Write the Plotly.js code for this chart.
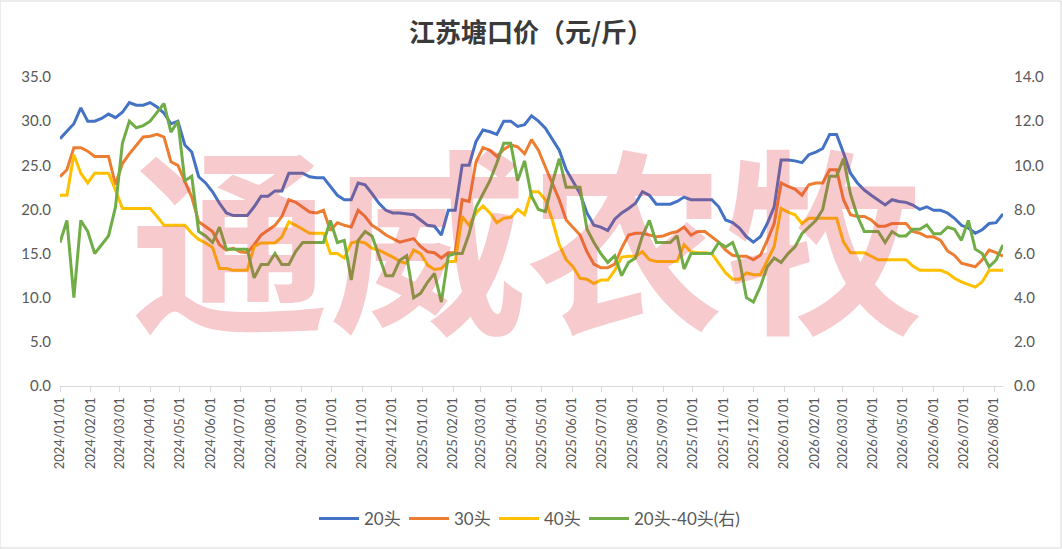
<!DOCTYPE html>
<html>
<head>
<meta charset="utf-8">
<script src="https://cdn.plot.ly/plotly-3.0.1.min.js"></script>
<style>
  html, body { margin: 0; padding: 0; background: #fff; }
  #chart { width: 1062px; height: 549px; }
</style>
</head>
<body>
<div id="chart"></div>
<script>
// weekly observations, first week 2024/01/01
const startDate = '2024-01-01';
const weekCount = 137;

const price20 = [
  28.0, 28.8, 29.7, 31.5, 30.0, 30.0, 30.3, 30.8, 30.4, 31.0,
  32.1, 31.8, 31.8, 32.1, 31.6, 30.9, 29.7, 30.0, 27.3, 26.5,
  23.7, 23.0, 22.0, 20.7, 19.6, 19.3, 19.3, 19.3, 20.3, 21.5,
  21.5, 22.1, 22.1, 24.1, 24.1, 24.1, 23.7, 23.6, 23.6, 22.6,
  21.6, 21.1, 21.1, 23.0, 22.8, 21.8, 20.7, 19.9, 19.6, 19.6,
  19.5, 19.4, 18.8, 18.2, 18.1, 17.1, 19.9, 19.9, 25.0, 25.0,
  27.7, 29.0, 28.8, 28.5, 30.0, 30.0, 29.4, 29.6, 30.6, 30.0,
  29.2, 28.0, 26.7, 24.5, 23.1, 21.8, 19.6, 18.2, 18.0, 17.6,
  18.9, 19.6, 20.1, 20.7, 22.0, 21.6, 20.6, 20.6, 20.6, 20.9,
  21.4, 21.1, 21.1, 21.1, 21.1, 20.3, 18.8, 18.5, 17.9, 16.9,
  16.3, 16.9, 18.4, 20.3, 25.6, 25.6, 25.5, 25.3, 26.2, 26.5,
  26.9, 28.5, 28.5, 26.4, 24.1, 23.0, 22.2, 21.6, 21.1, 20.5,
  21.1, 20.9, 20.8, 20.5, 20.0, 20.3, 19.9, 19.9, 19.6, 19.0,
  18.2, 17.9, 17.3, 17.7, 18.4, 18.5, 19.5
];

const price30 = [
  23.7, 24.5, 27.0, 27.0, 26.6, 26.0, 26.0, 26.0, 22.8, 25.2,
  26.3, 27.2, 28.2, 28.3, 28.5, 28.2, 25.4, 25.0, 23.3, 21.4,
  18.6, 18.0, 17.5, 16.0, 15.4, 15.6, 15.2, 15.1, 16.0, 17.1,
  17.7, 18.2, 19.2, 21.1, 20.8, 20.3, 19.7, 19.6, 19.9, 17.6,
  18.5, 18.2, 18.0, 19.9, 19.2, 18.2, 17.7, 17.1, 16.7, 16.3,
  16.5, 16.7, 15.8, 15.2, 15.1, 14.5, 15.1, 15.1, 21.1, 20.9,
  25.4, 27.0, 26.7, 26.0, 26.8, 27.3, 27.1, 26.3, 27.9, 26.7,
  24.8, 23.0, 21.1, 18.8, 17.9, 17.1, 15.2, 13.8, 13.4, 13.4,
  13.8, 15.6, 17.1, 17.3, 17.3, 17.1, 16.9, 17.0, 17.3, 17.5,
  18.0, 17.1, 17.5, 17.5, 16.9, 16.3, 15.4, 14.8, 14.7, 14.7,
  14.3, 14.8, 16.5, 18.4, 23.0, 22.6, 22.3, 21.6, 22.8, 23.0,
  23.0, 24.5, 24.5, 21.1, 19.4, 19.2, 19.2, 18.8, 18.1, 18.1,
  18.4, 18.4, 18.4, 17.5, 17.3, 16.9, 16.9, 16.5, 15.3, 14.8,
  13.9, 13.7, 13.5, 14.3, 15.4, 15.1, 14.7
];

const price40 = [
  21.6, 21.6, 26.2, 24.1, 23.0, 24.1, 24.1, 24.1, 22.2, 20.1,
  20.1, 20.1, 20.1, 20.1, 19.2, 18.2, 18.2, 18.2, 18.2, 17.3,
  16.6, 16.2, 15.7, 13.3, 13.3, 13.1, 13.1, 13.1, 15.8, 16.2,
  16.2, 16.2, 16.9, 18.6, 18.2, 17.7, 17.3, 17.3, 17.3, 15.0,
  15.0, 14.5, 16.2, 16.4, 16.2, 15.6, 15.4, 15.0, 14.6, 14.1,
  13.9, 15.4, 15.0, 13.7, 13.2, 13.3, 14.1, 14.1, 19.2, 18.2,
  19.6, 20.4, 19.6, 18.5, 19.0, 19.1, 20.0, 19.4, 22.0, 22.0,
  21.1, 18.8, 16.0, 14.3, 13.5, 12.2, 12.1, 11.6, 12.0, 12.0,
  13.1, 14.6, 14.7, 14.7, 15.2, 14.3, 14.1, 14.1, 14.1, 14.1,
  16.0, 15.2, 15.1, 15.1, 15.0, 13.9, 12.8, 12.1, 12.1, 12.8,
  12.6, 12.6, 14.3, 15.8, 20.1, 19.7, 19.4, 18.4, 19.0, 19.0,
  19.0, 19.0, 19.0, 16.3, 15.1, 15.1, 15.1, 14.7, 14.3, 14.3,
  14.3, 14.3, 14.3, 13.6, 13.1, 13.1, 13.1, 13.1, 12.8, 12.2,
  11.8, 11.5, 11.2, 11.8, 13.1, 13.1, 13.1
];

// 20头-40头 spread, right axis
const spread = [
  6.5, 7.5, 4.0, 7.5, 7.0, 6.0, 6.4, 6.8, 8.1, 11.0,
  12.0, 11.7, 11.8, 12.0, 12.4, 12.8, 11.5, 12.0, 9.3, 9.5,
  7.0, 6.8, 6.5, 7.2, 6.2, 6.2, 6.2, 6.2, 4.9, 5.5,
  5.5, 6.0, 5.5, 5.5, 6.1, 6.5, 6.5, 6.5, 6.5, 7.5,
  6.5, 6.6, 4.8, 6.6, 7.0, 6.8, 5.9, 5.0, 5.0, 5.7,
  5.9, 4.0, 4.2, 4.7, 5.1, 3.8, 5.9, 6.0, 6.0, 6.9,
  8.1, 8.7, 9.3, 10.1, 11.0, 11.0, 9.3, 10.2, 8.6, 8.0,
  7.9, 9.2, 10.3, 9.0, 9.0, 9.0, 7.1, 6.5, 6.0, 5.6,
  5.9, 5.0, 5.6, 5.8, 6.8, 7.5, 6.5, 6.5, 6.5, 6.8,
  5.3, 6.0, 6.0, 6.0, 6.0, 6.5, 6.3, 6.5, 5.7, 4.0,
  3.8, 4.5, 5.4, 5.8, 5.6, 6.0, 6.3, 6.9, 7.2, 7.5,
  8.0, 9.5, 9.5, 10.3, 8.7, 7.7, 7.0, 7.0, 7.0, 6.5,
  7.0, 6.8, 6.8, 7.1, 7.1, 7.3, 6.9, 6.9, 7.2, 7.1,
  6.6, 7.5, 6.2, 6.0, 5.4, 5.7, 6.4
];

const seriesNames = ['20头', '30头', '40头', '20头-40头(右)'];
const seriesColors = ['#4472C4', '#ED7D31', '#FFC000', '#70AD47'];

function weeklyDates(start, n) {
  const out = [];
  const d = new Date(start + 'T00:00:00Z');
  for (let i = 0; i < n; i++) {
    out.push(d.toISOString().slice(0, 10));
    d.setUTCDate(d.getUTCDate() + 7);
  }
  return out;
}

const dates = weeklyDates(startDate, weekCount);
const fontFamily = 'Lato, "Noto Sans CJK SC", sans-serif';

const traces = [price20, price30, price40, spread].map((vals, i) => {
  const t = {
    x: dates,
    y: vals,
    name: seriesNames[i],
    type: 'scatter',
    mode: 'lines',
    yaxis: i === 3 ? 'y2' : 'y',
    line: { color: seriesColors[i], width: 3 }
  };
  if (i === 3) t.legendwidth = 125;
  return t;
});

const layout = {
  width: 1062,
  height: 549,
  margin: { l: 60, r: 59, t: 77, b: 163 },
  paper_bgcolor: '#fff',
  plot_bgcolor: '#fff',
  font: { family: fontFamily, color: '#595959', size: 14 },
  title: {
    text: '江苏塘口价（元/斤）',
    x: 0.5, xanchor: 'center',
    y: 0.94, yanchor: 'middle',
    font: { family: '"Noto Sans CJK SC", sans-serif', size: 26, color: '#3a3a3a', weight: 'bold' }
  },
  xaxis: {
    type: 'date',
    range: [dates[0], dates[dates.length - 1]],
    tick0: '2024-01-01',
    dtick: 'M1',
    tickformat: '%Y/%m/%d',
    tickangle: -90,
    ticks: 'outside',
    ticklen: 5,
    tickcolor: '#d9d9d9',
    showline: true,
    linecolor: '#d9d9d9',
    linewidth: 1,
    showgrid: false,
    zeroline: false,
    tickfont: { size: 13, color: '#595959' }
  },
  yaxis: {
    range: [0, 35],
    dtick: 5,
    tickformat: '.1f',
    showgrid: false,
    zeroline: false,
    showline: false,
    ticks: '',
    ticklabelstandoff: 8,
    tickfont: { size: 15, color: '#595959' }
  },
  yaxis2: {
    overlaying: 'y',
    side: 'right',
    range: [0, 14],
    dtick: 2,
    tickformat: '.1f',
    showgrid: false,
    zeroline: false,
    showline: false,
    ticks: '',
    ticklabelstandoff: 10,
    tickfont: { size: 15, color: '#595959' }
  },
  showlegend: true,
  legend: {
    orientation: 'h',
    x: (314 - 60) / 943, xanchor: 'left',
    y: -0.43, yanchor: 'middle',
    font: { size: 17, color: '#595959' },
    itemwidth: 40,
    entrywidth: 35,
    entrywidthmode: 'pixels'
  },
  annotations: [{
    text: '通威农牧',
    xref: 'paper', yref: 'paper',
    x: 0.495, y: 0.5,
    showarrow: false,
    font: {
      family: '"Noto Sans CJK SC", sans-serif',
      size: 198,
      weight: 'bold',
      color: 'rgba(225, 60, 70, 0.27)'
    }
  }],
  shapes: [{
    type: 'rect',
    xref: 'paper', yref: 'paper',
    x0: -60 / 943, x1: 1 + 58 / 943,
    y0: -162 / 309, y1: 1 + 76 / 309,
    line: { color: '#d9d9d9', width: 1 },
    fillcolor: 'rgba(0,0,0,0)'
  }]
};

Plotly.newPlot('chart', traces, layout, { displayModeBar: false, staticPlot: true });
</script>
</body>
</html>
